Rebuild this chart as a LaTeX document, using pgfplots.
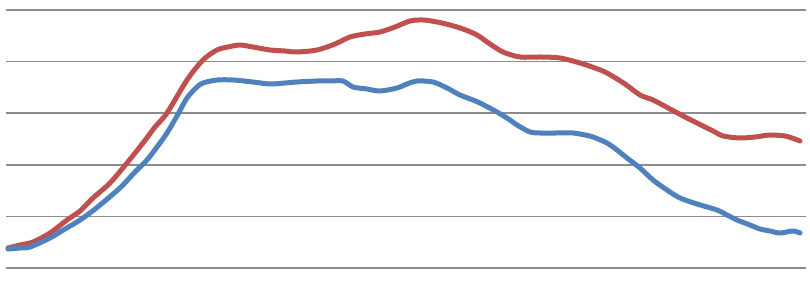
\documentclass[border=0pt]{standalone}
\usepackage{pgfplots}
\pgfplotsset{compat=1.18}
\definecolor{xred}{HTML}{C0504D}
\definecolor{xblue}{HTML}{4F81BD}
\definecolor{xgrid}{HTML}{8C8C8C}
\begin{document}
\begin{tikzpicture}
\begin{axis}[
  scale only axis, width=400pt, height=129pt,
  xmin=6, xmax=806, ymin=0, ymax=258,
  xtick=\empty, ytick={0,51.6,103.2,154.8,206.4,258}, yticklabels={},
  ymajorgrids, grid style={xgrid, line width=0.75pt},
  axis line style={draw=none}, major tick length=0pt,
  clip=false,
]
\addplot[xred, line width=2.5pt, smooth, line join=round, line cap=round] coordinates {
(8,20) (20,23) (33,26) (50,35) (67,48) (80,57) (93,70) (110,85) (127,105)
(143,125) (155,141) (167,155) (187,188) (203,208) (217,218) (228,221) (240,223)
(253,221) (270,218) (285,217) (297,216) (317,218) (335,224) (350,231) (365,234)
(380,236) (395,241) (410,247) (423,248) (437,246) (450,243) (463,239) (477,233)
(490,224) (503,216) (520,211) (540,211) (560,210) (580,205) (595,200) (607,195)
(625,184) (640,173) (653,168) (670,159) (687,150) (703,142) (715,136) (723,132)
(740,130) (755,131) (770,133) (785,132) (792,130) (800,127)
};
\addplot[xblue, line width=2.5pt, smooth, line join=round, line cap=round] coordinates {
(8,19) (20,20) (30,21) (50,30) (65,39) (77,46) (90,55) (100,63) (112,73) (123,83)
(135,96) (147,108) (157,121) (167,135) (177,152) (187,170) (197,181) (203,185)
(217,188) (233,188) (253,186) (270,184) (285,185) (297,186) (317,187) (330,187)
(343,187) (353,181) (367,179) (380,177) (397,180) (407,184) (417,187) (433,186)
(447,180) (460,173) (473,168) (480,165) (497,156) (510,148) (517,143) (530,136)
(540,135) (557,135) (573,135) (585,133) (593,131) (607,125) (617,118) (627,110)
(640,100) (653,88) (667,78) (680,70) (697,64) (717,58) (727,53) (737,48)
(750,43) (760,39) (770,37) (780,35) (793,37) (800,35)
};
\end{axis}
\path (current axis.south west) ++(-3pt,-16pt) coordinate (a);
\path (current axis.north east) ++(2pt,5pt) coordinate (b);
\pgfresetboundingbox
\useasboundingbox (a) rectangle (b);
\end{tikzpicture}
\end{document}
